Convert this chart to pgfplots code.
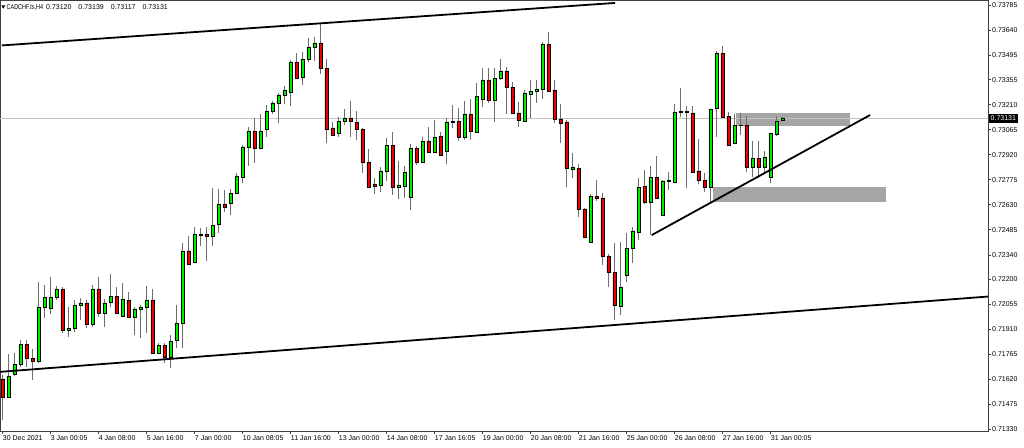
\documentclass[border=0pt]{standalone}
\usepackage{pgfplots}
\usepackage{pgfplotstable}
\usepackage{graphicx}
\pgfplotsset{compat=1.18}
\usepackage{fontspec}
\setmainfont{Liberation Sans}
\definecolor{bull}{RGB}{0,235,0}
\definecolor{bear}{RGB}{235,0,0}
\definecolor{wick}{RGB}{110,110,110}
\definecolor{zone}{RGB}{165,165,165}
\definecolor{pline}{RGB}{195,195,195}

\pgfplotstableread{
i o h l c
0 0.71622 0.71645 0.71384 0.71517
1 0.71517 0.71766 0.71517 0.71639
2 0.71651 0.71772 0.71639 0.71708
3 0.71708 0.71847 0.71691 0.71824
4 0.71824 0.71847 0.71691 0.71743
5 0.71743 0.71795 0.71616 0.71726
6 0.71726 0.72183 0.71714 0.72039
7 0.72039 0.72166 0.71975 0.72096
8 0.72033 0.72212 0.71998 0.72096
9 0.72096 0.72160 0.72079 0.72143
10 0.72143 0.72154 0.71888 0.71905
11 0.71905 0.72039 0.71865 0.71917
12 0.71917 0.72079 0.71894 0.72050
13 0.72050 0.72091 0.71963 0.72062
14 0.72062 0.72079 0.71917 0.71940
15 0.71940 0.72166 0.71923 0.72143
16 0.72143 0.72212 0.71981 0.72004
17 0.72004 0.72085 0.71923 0.72062
18 0.72067 0.72229 0.72039 0.72102
19 0.72102 0.72154 0.72002 0.72004
20 0.71986 0.72177 0.71981 0.72085
21 0.72079 0.72125 0.71979 0.71981
22 0.71981 0.72039 0.71876 0.72027
23 0.72027 0.72050 0.71859 0.72039
24 0.72039 0.72160 0.71888 0.72079
25 0.72079 0.72143 0.71770 0.71772
26 0.71772 0.71830 0.71766 0.71818
27 0.71818 0.71830 0.71714 0.71749
28 0.71749 0.71876 0.71685 0.71842
29 0.71847 0.72050 0.71801 0.71946
30 0.71946 0.72409 0.71801 0.72363
31 0.72363 0.72450 0.72282 0.72287
32 0.72299 0.72502 0.72293 0.72461
33 0.72455 0.72496 0.72392 0.72458
34 0.72461 0.72502 0.72305 0.72450
35 0.72450 0.72728 0.72392 0.72513
36 0.72519 0.72722 0.72467 0.72635
37 0.72635 0.72716 0.72589 0.72617
38 0.72641 0.72722 0.72571 0.72698
39 0.72698 0.72814 0.72696 0.72797
40 0.72791 0.72976 0.72756 0.72965
41 0.72965 0.73081 0.72855 0.73058
42 0.73058 0.73133 0.72872 0.72959
43 0.72959 0.73156 0.72957 0.73058
44 0.73069 0.73208 0.73023 0.73173
45 0.73173 0.73231 0.73156 0.73220
46 0.73220 0.73278 0.73104 0.73266
47 0.73266 0.73318 0.73214 0.73295
48 0.73283 0.73469 0.73202 0.73457
49 0.73457 0.73509 0.73362 0.73364
50 0.73370 0.73515 0.73324 0.73474
51 0.73474 0.73596 0.73457 0.73544
52 0.73544 0.73602 0.73463 0.73567
53 0.73567 0.73683 0.73388 0.73422
54 0.73422 0.73474 0.72988 0.73069
55 0.73075 0.73110 0.73029 0.73034
56 0.73046 0.73139 0.73023 0.73115
57 0.73115 0.73185 0.73092 0.73133
58 0.73133 0.73231 0.73023 0.73115
59 0.73110 0.73173 0.73005 0.73069
60 0.73069 0.73075 0.72814 0.72878
61 0.72878 0.72953 0.72731 0.72733
62 0.72751 0.72785 0.72693 0.72739
63 0.72745 0.72849 0.72704 0.72826
64 0.72826 0.73017 0.72768 0.72976
65 0.72976 0.73052 0.72687 0.72733
66 0.72733 0.72884 0.72664 0.72745
67 0.72739 0.72855 0.72670 0.72820
68 0.72675 0.72982 0.72600 0.72959
69 0.72959 0.72971 0.72861 0.72878
70 0.72878 0.73023 0.72876 0.73000
71 0.73000 0.73081 0.72930 0.72936
72 0.72936 0.73121 0.72930 0.73023
73 0.73029 0.73052 0.72913 0.72919
74 0.72942 0.73133 0.72866 0.73110
75 0.73110 0.73208 0.73075 0.73115
76 0.73115 0.73191 0.73000 0.73023
77 0.73023 0.73231 0.73005 0.73156
78 0.73156 0.73243 0.73005 0.73058
79 0.73052 0.73335 0.73046 0.73260
80 0.73243 0.73422 0.73197 0.73353
81 0.73353 0.73422 0.73220 0.73237
82 0.73237 0.73422 0.73110 0.73364
83 0.73364 0.73474 0.73353 0.73405
84 0.73405 0.73428 0.73156 0.73312
85 0.73312 0.73341 0.73160 0.73162
86 0.73162 0.73225 0.73081 0.73121
87 0.73115 0.73295 0.73113 0.73278
88 0.73272 0.73353 0.73133 0.73289
89 0.73289 0.73353 0.73220 0.73301
90 0.73301 0.73573 0.73243 0.73561
91 0.73561 0.73631 0.73287 0.73289
92 0.73295 0.73353 0.73104 0.73127
93 0.73127 0.73214 0.72988 0.73104
94 0.73110 0.73121 0.72733 0.72843
95 0.72838 0.72930 0.72785 0.72849
96 0.72843 0.72866 0.72560 0.72606
97 0.72606 0.72612 0.72442 0.72444
98 0.72415 0.72693 0.72413 0.72681
99 0.72681 0.72774 0.72652 0.72670
100 0.72670 0.72698 0.72282 0.72334
101 0.72334 0.72345 0.72154 0.72241
102 0.72241 0.72409 0.71963 0.72050
103 0.72044 0.72415 0.71992 0.72154
104 0.72224 0.72467 0.72183 0.72380
105 0.72380 0.72502 0.72293 0.72479
106 0.72473 0.72785 0.72426 0.72733
107 0.72739 0.72832 0.72635 0.72646
108 0.72646 0.72855 0.72455 0.72791
109 0.72791 0.72913 0.72664 0.72670
110 0.72571 0.72774 0.72565 0.72768
111 0.72765 0.72820 0.72716 0.72774
112 0.72762 0.73214 0.72756 0.73168
113 0.73167 0.73307 0.73139 0.73169
114 0.73170 0.73202 0.72728 0.73168
115 0.73162 0.73202 0.72818 0.72820
116 0.72826 0.73011 0.72751 0.72774
117 0.72774 0.72814 0.72704 0.72733
118 0.72733 0.73187 0.72646 0.73185
119 0.73191 0.73521 0.73023 0.73509
120 0.73509 0.73550 0.73137 0.73139
121 0.73144 0.73168 0.72974 0.72976
122 0.72988 0.73156 0.72986 0.73092
123 0.73092 0.73162 0.73034 0.73093
124 0.73092 0.73144 0.72820 0.72849
125 0.72849 0.73000 0.72791 0.72901
126 0.72901 0.73000 0.72785 0.72849
127 0.72849 0.72942 0.72814 0.72907
128 0.72791 0.73048 0.72756 0.73046
129 0.73040 0.73144 0.73029 0.73115
130 0.73120 0.73139 0.73117 0.73131
}\candles

\tikzset{lbl/.style={font=\fontsize{7}{8}\selectfont}}
\pgfplotsset{
  base/.style={
    scale only axis, width=988pt, height=431pt,
    at={(0pt,0pt)}, anchor=south west,
    xmin=-0.45, xmax=164.2, ymin=0.713205, ymax=0.73816,
    clip=true,
  },
}

\begin{document}
\begin{tikzpicture}[x=1pt,y=1pt]
% Layer A: frame, ticks, zones, price line, wicks
\begin{axis}[base,
  axis line style={black!75, line width=0.8pt},
  tick align=outside, major tick length=3pt,
  tick style={black!75, line width=0.8pt},
  xtick pos=left, ytick pos=right, yticklabel pos=right,
  scaled y ticks=false,
  xtick={0,8,...,128},
  xticklabels={30 Dec 2021, 3 Jan 00:05, 4 Jan 08:00, 5 Jan 16:00, 7 Jan 00:00, 10 Jan 08:05, 11 Jan 16:00, 13 Jan 00:00, 14 Jan 08:00, 17 Jan 16:05, 19 Jan 00:00, 20 Jan 08:00, 21 Jan 16:00, 25 Jan 00:00, 26 Jan 08:00, 27 Jan 16:00, 31 Jan 00:05},
  xticklabel style={lbl, anchor=north west, inner xsep=0pt, inner ysep=1pt},
  ytick={0.71330,0.71475,0.71620,0.71765,0.71910,0.72055,0.72200,0.72340,0.72485,0.72630,0.72775,0.72920,0.73065,0.73210,0.73355,0.73495,0.73640,0.73785},
  yticklabels={0.71330,0.71475,0.71620,0.71765,0.71910,0.72055,0.72200,0.72340,0.72485,0.72630,0.72775,0.72920,0.73065,0.73210,0.73355,0.73495,0.73640,0.73785},
  yticklabel style={lbl, anchor=west, inner xsep=1pt},
  /pgf/number format/assume math mode=true,
]
\addplot[fill=zone, draw=none] coordinates {(122.2,0.73162) (141.2,0.73162) (141.2,0.73086) (122.2,0.73086)} -- cycle;
\addplot[fill=zone, draw=none] coordinates {(118.3,0.72735) (147.2,0.72735) (147.2,0.72645) (118.3,0.72645)} -- cycle;
\addplot[pline, line width=0.8pt] coordinates {(-0.45,0.73131) (164.2,0.73131)};
\addplot[draw=none, mark=none,
  error bars/.cd, y dir=plus, y explicit, error mark=none,
  error bar style={draw=wick, solid, line width=1pt}]
  table[x=i, y=l, y error plus expr=\thisrow{h}-\thisrow{l}] {\candles};
\end{axis}

% Layer B: candle bodies
\begin{axis}[base, hide axis, ybar stacked, bar width=3.8pt]
\addplot[draw=none, fill=none] table[x=i, y expr={min(\thisrow{o},\thisrow{c})}] {\candles};
\addplot[draw=black, fill=bull, line width=0.6pt] table[x=i, y expr={max(\thisrow{c}-\thisrow{o},0)}] {\candles};
\addplot[draw=black, fill=bear, line width=0.6pt] table[x=i, y expr={max(\thisrow{o}-\thisrow{c},0)}] {\candles};
\end{axis}

% Layer C: trend lines
\begin{axis}[base, hide axis]
\addplot[black, line width=1.8pt] coordinates {(-0.12,0.73553) (102.05,0.73799)};
\addplot[black, line width=1.8pt] coordinates {(-0.45,0.71663) (164.2,0.72099)};
\addplot[black, line width=1.8pt] coordinates {(108.17,0.72455) (144.55,0.73150)};
\end{axis}

% annotations
\fill (1.3pt,425.7pt) -- (5.3pt,425.7pt) -- (3.3pt,422.3pt) -- cycle;
\node[lbl, anchor=west, inner sep=0pt] at (6.5pt,423.7pt) {\scalebox{0.78}[1]{CADCHF.ts,H4}};
\node[lbl, anchor=west, inner sep=0pt] at (46pt,423.7pt) {0.73120\hspace{7pt}0.73139\hspace{7pt}0.73117\hspace{7pt}0.73131};
\node[lbl, fill=black, text=white, anchor=west, inner xsep=1.5pt, inner ysep=0pt, minimum height=8.5pt] at (989pt,312.7pt) {0.73131};

\pgfresetboundingbox
\path[use as bounding box] (0pt,-16pt) rectangle (1024pt,431pt);
\end{tikzpicture}
\end{document}
